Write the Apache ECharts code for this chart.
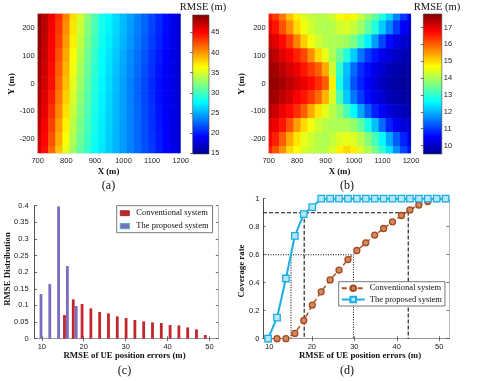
<!DOCTYPE html>
<html>
<head>
<meta charset="utf-8">
<script src="https://cdn.jsdelivr.net/npm/echarts@6/dist/echarts.min.js"></script>
<style>
html,body{margin:0;padding:0;background:#fff;}
#main{width:477px;height:381px;}
</style>
</head>
<body>
<div id="main"></div>
<script>
// heatmap grid (a) and (b): x = 700..1200, y = 250..-250
var xCells = [700, 725, 750, 775, 800, 825, 850, 875, 900, 925, 950, 975, 1000, 1025, 1050, 1075, 1100, 1125, 1150, 1175, 1200];
var yCells = [250, 200, 150, 100, 50, 0, -50, -100, -150, -200, -250];

// (a) conventional system RMSE (m), one row per yCells entry
var rmseA = [
  [49.0, 47.5, 45.5, 43.5, 40.5, 37.5, 35.0, 32.5, 30.5, 28.5, 27.5, 26.5, 25.5, 24.5, 23.5, 22.5, 21.5, 20.5, 19.5, 18.5, 17.5],
  [48.9, 47.3, 45.3, 43.2, 40.2, 37.2, 34.7, 32.3, 30.3, 28.4, 27.4, 26.4, 25.4, 24.4, 23.4, 22.4, 21.4, 20.4, 19.4, 18.4, 17.5],
  [48.7, 47.1, 45.1, 42.8, 39.8, 36.8, 34.3, 32.0, 30.0, 28.2, 27.2, 26.2, 25.2, 24.2, 23.2, 22.2, 21.2, 20.2, 19.3, 18.3, 17.4],
  [48.5, 46.9, 44.9, 42.3, 39.3, 36.3, 33.8, 31.6, 29.6, 27.9, 26.9, 25.9, 24.9, 23.9, 22.9, 21.9, 20.9, 19.9, 19.1, 18.2, 17.4],
  [48.3, 46.7, 44.7, 41.9, 38.9, 35.9, 33.4, 31.3, 29.3, 27.7, 26.7, 25.7, 24.7, 23.7, 22.7, 21.7, 20.7, 19.7, 18.9, 18.1, 17.3],
  [48.1, 46.5, 44.5, 41.5, 38.5, 35.5, 33.0, 31.0, 29.0, 27.5, 26.5, 25.5, 24.5, 23.5, 22.5, 21.5, 20.5, 19.5, 18.8, 18.0, 17.3],
  [47.8, 46.1, 44.0, 41.0, 38.0, 35.0, 32.6, 30.7, 28.8, 27.4, 26.4, 25.4, 24.5, 23.5, 22.5, 21.5, 20.6, 19.6, 18.8, 18.0, 17.3],
  [47.5, 45.7, 43.4, 40.4, 37.4, 34.5, 32.2, 30.4, 28.6, 27.3, 26.3, 25.4, 24.5, 23.5, 22.6, 21.6, 20.7, 19.7, 18.9, 18.1, 17.4],
  [47.2, 45.3, 42.8, 39.8, 36.8, 34.0, 31.8, 30.1, 28.4, 27.2, 26.2, 25.3, 24.4, 23.5, 22.6, 21.7, 20.8, 19.8, 19.0, 18.2, 17.4],
  [46.9, 44.9, 42.2, 39.2, 36.2, 33.5, 31.4, 29.8, 28.2, 27.1, 26.1, 25.2, 24.4, 23.5, 22.6, 21.7, 20.9, 19.9, 19.1, 18.2, 17.5],
  [46.5, 44.5, 41.5, 38.5, 35.5, 33.0, 31.0, 29.5, 28.0, 27.0, 26.0, 25.2, 24.4, 23.5, 22.7, 21.8, 21.0, 20.0, 19.2, 18.3, 17.5]
];

// (b) proposed system RMSE (m)
var rmseB = [
  [16.6, 16.3, 15.8, 15.2, 14.8, 14.4, 14.2, 14.1, 14.1, 14.3, 14.6, 14.8, 14.6, 14.2, 13.8, 13.4, 12.9, 12.3, 11.6, 11.0, 10.6],
  [16.9, 16.6, 16.1, 15.6, 15.0, 14.6, 14.3, 14.1, 14.0, 14.1, 14.3, 14.4, 14.2, 13.9, 13.4, 12.9, 12.2, 11.6, 11.0, 10.5, 10.2],
  [17.2, 17.0, 16.7, 16.3, 15.7, 15.1, 14.6, 14.3, 14.1, 14.0, 14.0, 13.9, 13.6, 13.1, 12.5, 11.8, 11.1, 10.6, 10.3, 10.1, 10.0],
  [17.5, 17.3, 17.0, 16.8, 16.5, 16.2, 15.6, 15.0, 14.5, 14.0, 13.5, 12.9, 12.2, 11.5, 11.0, 10.7, 10.4, 10.2, 10.0, 9.9, 9.8],
  [17.6, 17.5, 17.3, 17.1, 16.9, 16.6, 16.3, 16.0, 15.4, 14.3, 13.0, 12.1, 11.4, 10.9, 10.6, 10.3, 10.1, 9.9, 9.8, 9.7, 9.7],
  [17.7, 17.6, 17.5, 17.3, 17.1, 16.9, 16.7, 16.4, 16.0, 14.8, 12.8, 12.0, 11.2, 10.8, 10.5, 10.2, 10.0, 9.8, 9.7, 9.6, 9.6],
  [17.6, 17.5, 17.3, 17.1, 16.8, 16.6, 16.3, 15.9, 15.3, 14.4, 13.2, 12.2, 11.5, 11.0, 10.6, 10.3, 10.1, 9.9, 9.8, 9.7, 9.7],
  [17.4, 17.2, 16.9, 16.7, 16.4, 16.0, 15.4, 14.9, 14.5, 14.1, 13.8, 13.2, 12.6, 11.9, 11.3, 10.8, 10.5, 10.2, 10.0, 9.9, 9.8],
  [17.1, 16.9, 16.6, 16.1, 15.5, 15.0, 14.6, 14.3, 14.1, 14.0, 14.0, 14.0, 13.8, 13.4, 12.8, 12.1, 11.4, 10.8, 10.4, 10.2, 10.1],
  [16.8, 16.5, 16.0, 15.4, 14.9, 14.5, 14.3, 14.1, 14.0, 14.2, 14.4, 14.5, 14.4, 14.1, 13.7, 13.2, 12.6, 11.9, 11.3, 10.8, 10.4],
  [16.5, 16.1, 15.6, 15.0, 14.7, 14.4, 14.2, 14.1, 14.1, 14.4, 14.8, 15.0, 14.8, 14.4, 14.0, 13.6, 13.0, 12.4, 11.7, 11.1, 10.7]
];

// colour bar ranges and ticks
var rangeA = [14.8, 49.3];
var rangeB = [9.5, 17.8];
var cbarTicksA = [15, 20, 25, 30, 35, 40, 45];
var cbarTicksB = [10, 11, 12, 13, 14, 15, 16, 17];
var yTicksXY = [-200, -100, 0, 100, 200];

// (c) RMSE distribution
var convErr = [15.4, 17.5, 19.6, 21.7, 23.8, 25.9, 28.0, 30.1, 32.2, 34.3, 36.4, 38.5, 40.6, 42.7, 44.8, 46.9, 49.0];
var convDist = [0.071, 0.118, 0.104, 0.091, 0.080, 0.076, 0.067, 0.062, 0.056, 0.052, 0.049, 0.047, 0.041, 0.040, 0.034, 0.028, 0.011];
var propErr = [9.8, 11.9, 14.0, 16.1, 18.2];
var propDist = [0.134, 0.164, 0.397, 0.218, 0.098];

// (d) coverage rate
var covErr = [9.7, 11.8, 13.9, 16.0, 18.1, 20.1, 22.2, 24.3, 26.4, 28.5, 30.6, 32.7, 34.8, 36.9, 39.0, 41.1, 43.1, 45.2, 47.3, 49.4, 51.5];
var convCov = [0, 0, 0, 0.038, 0.13, 0.24, 0.335, 0.42, 0.49, 0.565, 0.63, 0.685, 0.74, 0.787, 0.835, 0.88, 0.92, 0.955, 0.98, 1, 1];
var propCov = [0, 0.15, 0.43, 0.735, 0.89, 0.94, 1, 1, 1, 1, 1, 1, 1, 1, 1, 1, 1, 1, 1, 1, 1];
var errTicks = [10, 20, 30, 40, 50];
// coverage levels and where each system reaches them
var covLevels = [0.9, 0.6];
var propAtLevel = [18.2, 15.1];
var convAtLevel = [42.7, 29.8];

var jet = ['#00008f', '#0000ff', '#0080ff', '#00ffff', '#80ff80', '#ffff00', '#ff8000', '#ff0000', '#800000'];
var legendText = {
  cConv: 'Conventional system', cProp: 'The proposed system',
  dConv: 'Conventional system', dProp: 'The proposed system'
};

var SANS = '"Liberation Sans", Arial, sans-serif';
var SERIF = '"Liberation Serif", "Times New Roman", serif';

function heatData(rows) {
  var out = [];
  for (var i = 0; i < yCells.length; i++) {
    for (var j = 0; j < xCells.length; j++) {
      out.push([xCells[j], yCells[i], rows[i][j]]);
    }
  }
  return out;
}

function renderCell(params, api) {
  var x = api.value(0), y = api.value(1);
  var p0 = api.coord([x - 12.5, y + 25]);
  var p1 = api.coord([x + 12.5, y - 25]);
  var cs = params.coordSys;
  var rect = echarts.graphic.clipRectByRect(
    { x: p0[0] - 0.3, y: p0[1] - 0.3, width: p1[0] - p0[0] + 0.6, height: p1[1] - p0[1] + 0.6 },
    { x: cs.x, y: cs.y, width: cs.width, height: cs.height }
  );
  if (!rect) return;
  return { type: 'rect', shape: rect, style: { fill: api.visual('color') } };
}

function jetGradient() {
  var stops = [];
  for (var i = 0; i < jet.length; i++) stops.push({ offset: i / (jet.length - 1), color: jet[i] });
  return new echarts.graphic.LinearGradient(0, 1, 0, 0, stops);
}

function tickLabel(extra) {
  var o = { fontSize: 7.5, color: '#222', fontFamily: SANS, formatter: function (v) { return String(v); } };
  for (var k in extra) o[k] = extra[k];
  return o;
}

function txt(x, y, s, size, bold, rot) {
  return {
    type: 'text', x: x, y: y, rotation: rot || 0, z: 100,
    style: {
      text: s, x: 0, y: 0, align: 'center', verticalAlign: 'middle',
      fontFamily: SERIF, fontSize: size, fontWeight: bold ? 'bold' : 'normal', fill: '#111'
    }
  };
}

function guideSeries() {
  var out = [];
  for (var i = 0; i < covLevels.length; i++) {
    var ls = { color: '#111', width: 1.1, type: i === 0 ? [4, 2] : [1, 1.5] };
    out.push({
      type: 'line', xAxisIndex: 6, yAxisIndex: 6, z: 1, symbol: 'none', silent: true,
      lineStyle: ls,
      data: [[8.5, covLevels[i]], [convAtLevel[i], covLevels[i]], [convAtLevel[i], 0]]
    });
    out.push({
      type: 'line', xAxisIndex: 6, yAxisIndex: 6, z: 1, symbol: 'none', silent: true,
      lineStyle: ls,
      data: [[propAtLevel[i], covLevels[i]], [propAtLevel[i], 0]]
    });
  }
  return out;
}

var chart = echarts.init(document.getElementById('main'), null, { renderer: 'canvas' });

var boxAxis = { show: true, lineStyle: { color: '#222', width: 0.8 } };
var lightAxis = { show: true, lineStyle: { color: '#aaa', width: 0.8 } };
var inTick = function (vals) {
  var t = { show: true, inside: true, length: 2.5, lineStyle: { color: '#333', width: 0.7 } };
  if (vals) t.customValues = vals;
  return t;
};

var option = {
  animation: false,
  backgroundColor: '#fff',
  grid: [
    { left: 37.7, top: 13.7, width: 143, height: 139.5, show: true, borderColor: '#ccc', borderWidth: 0.6 },
    { left: 192.7, top: 15, width: 16.3, height: 139, show: true, backgroundColor: jetGradient(), borderColor: '#444', borderWidth: 0.6 },
    { left: 268.7, top: 13.7, width: 142.3, height: 139.6, show: true, borderColor: '#ccc', borderWidth: 0.6 },
    { left: 423.3, top: 14, width: 18.5, height: 140, show: true, backgroundColor: jetGradient(), borderColor: '#444', borderWidth: 0.6 },
    { left: 34.7, top: 205.5, width: 183.6, height: 133.2 },
    { left: 263, top: 198.7, width: 186, height: 140 }
  ],
  xAxis: [
    { gridIndex: 0, type: 'value', min: 700, max: 1200, interval: 100, axisLine: { show: false }, axisTick: { show: false }, splitLine: { show: false }, axisLabel: tickLabel({ margin: 4 }) },
    { gridIndex: 1, type: 'value', min: 0, max: 1, show: false },
    { gridIndex: 2, type: 'value', min: 700, max: 1200, interval: 100, axisLine: { show: false }, axisTick: { show: false }, splitLine: { show: false }, axisLabel: tickLabel({ margin: 4 }) },
    { gridIndex: 3, type: 'value', min: 0, max: 1, show: false },
    { gridIndex: 4, type: 'value', min: 8.3, max: 52.1, position: 'bottom', axisLine: boxAxis, axisTick: inTick(errTicks), splitLine: { show: false }, axisLabel: tickLabel({ margin: 4, customValues: errTicks }) },
    { gridIndex: 4, type: 'value', min: 8.3, max: 52.1, position: 'top', axisLine: lightAxis, axisTick: inTick(errTicks), splitLine: { show: false }, axisLabel: { show: false } },
    { gridIndex: 5, type: 'value', min: 8.5, max: 52.3, position: 'bottom', axisLine: boxAxis, axisTick: inTick(errTicks), splitLine: { show: false }, axisLabel: tickLabel({ margin: 4, customValues: errTicks }) },
    { gridIndex: 5, type: 'value', min: 8.5, max: 52.3, position: 'top', axisLine: lightAxis, axisTick: inTick(errTicks), splitLine: { show: false }, axisLabel: { show: false } }
  ],
  yAxis: [
    { gridIndex: 0, type: 'value', min: -250, max: 250, axisLine: { show: false }, axisTick: { show: false }, splitLine: { show: false }, axisLabel: tickLabel({ margin: 3, customValues: yTicksXY }) },
    { gridIndex: 1, type: 'value', min: rangeA[0], max: rangeA[1], position: 'right', axisLine: { show: false }, axisTick: inTick(cbarTicksA), splitLine: { show: false }, axisLabel: tickLabel({ margin: 2, customValues: cbarTicksA }) },
    { gridIndex: 2, type: 'value', min: -250, max: 250, axisLine: { show: false }, axisTick: { show: false }, splitLine: { show: false }, axisLabel: tickLabel({ margin: 3, customValues: yTicksXY }) },
    { gridIndex: 3, type: 'value', min: rangeB[0], max: rangeB[1], position: 'right', axisLine: { show: false }, axisTick: inTick(cbarTicksB), splitLine: { show: false }, axisLabel: tickLabel({ margin: 2, customValues: cbarTicksB }) },
    { gridIndex: 4, type: 'value', min: 0, max: 0.4, interval: 0.05, position: 'left', axisLine: boxAxis, axisTick: inTick(), splitLine: { show: false }, axisLabel: tickLabel({ margin: 6 }) },
    { gridIndex: 4, type: 'value', min: 0, max: 0.4, interval: 0.05, position: 'right', axisLine: lightAxis, axisTick: inTick(), splitLine: { show: false }, axisLabel: { show: false } },
    { gridIndex: 5, type: 'value', min: 0, max: 1, interval: 0.2, position: 'left', axisLine: boxAxis, axisTick: inTick(), splitLine: { show: false }, axisLabel: tickLabel({ margin: 3.5 }) },
    { gridIndex: 5, type: 'value', min: 0, max: 1, interval: 0.2, position: 'right', axisLine: lightAxis, axisTick: inTick(), splitLine: { show: false }, axisLabel: { show: false } }
  ],
  visualMap: [
    { type: 'continuous', show: false, seriesIndex: 0, dimension: 2, min: rangeA[0], max: rangeA[1], inRange: { color: jet } },
    { type: 'continuous', show: false, seriesIndex: 1, dimension: 2, min: rangeB[0], max: rangeB[1], inRange: { color: jet } }
  ],
  legend: [
    {
      left: 116.7, top: 205.7, orient: 'vertical', itemWidth: 9, itemHeight: 5, itemGap: 4,
      padding: [3, 4, 2, 3], borderColor: '#555', borderWidth: 0.8, backgroundColor: '#fff',
      formatter: function (n) { return legendText[n]; },
      textStyle: { fontFamily: SERIF, fontSize: 8.5, color: '#111', padding: [0, 0, 0, 2] },
      data: [
        { name: 'cConv', icon: 'rect', itemStyle: { color: '#c0262a', borderColor: '#8a1a1a', borderWidth: 0.8 } },
        { name: 'cProp', icon: 'rect', itemStyle: { color: '#7a6cc0', borderColor: '#58b0b8', borderWidth: 1.2 } }
      ]
    },
    {
      left: 338.7, top: 281.7, orient: 'vertical', itemWidth: 23, itemHeight: 7, itemGap: 2.3,
      padding: [2, 3, 2, 2], borderColor: '#555', borderWidth: 0.8, backgroundColor: '#fff',
      formatter: function (n) { return legendText[n]; },
      textStyle: { fontFamily: SERIF, fontSize: 8.5, color: '#111', padding: [0, 0, 0, 0] },
      data: ['dConv', 'dProp']
    }
  ],
  series: [
    { type: 'custom', xAxisIndex: 0, yAxisIndex: 0, renderItem: renderCell, data: heatData(rmseA), silent: true },
    { type: 'custom', xAxisIndex: 2, yAxisIndex: 2, renderItem: renderCell, data: heatData(rmseB), silent: true },
    {
      name: 'cConv', type: 'bar', xAxisIndex: 4, yAxisIndex: 4, barWidth: 2.8, barGap: '-100%',
      itemStyle: { color: '#c0262a' },
      data: convErr.map(function (e, i) { return [e, convDist[i]]; })
    },
    {
      name: 'cProp', type: 'bar', xAxisIndex: 4, yAxisIndex: 4, barWidth: 2.8, barGap: '-100%',
      itemStyle: { color: '#7a6cc0' },
      data: propErr.map(function (e, i) { return [e, propDist[i]]; })
    },
    {
      name: 'dConv', type: 'line', xAxisIndex: 6, yAxisIndex: 6, z: 3,
      symbol: 'circle', symbolSize: 6,
      lineStyle: { color: '#ad5228', width: 1.5, type: [5, 3] },
      itemStyle: { color: '#cf8a5e', borderColor: '#a4481e', borderWidth: 1.3 },
      data: covErr.map(function (e, i) { return [e, convCov[i]]; })
    },
    {
      name: 'dProp', type: 'line', xAxisIndex: 6, yAxisIndex: 6, z: 4,
      symbol: 'rect', symbolSize: 6.5,
      lineStyle: { color: '#1aaee6', width: 2 },
      itemStyle: { color: '#b5e6f8', borderColor: '#1aaee6', borderWidth: 1.3 },
      data: covErr.map(function (e, i) { return [e, propCov[i]]; })
    }
  ].concat(guideSeries()),
  graphic: [
    txt(203, 7, 'RMSE (m)', 10.5, false),
    txt(437, 7, 'RMSE (m)', 10.5, false),
    txt(108.5, 172, 'X (m)', 8.8, true),
    txt(339.5, 172, 'X (m)', 8.8, true),
    txt(12, 84, 'Y (m)', 8.8, true, Math.PI / 2),
    txt(242, 84, 'Y (m)', 8.8, true, Math.PI / 2),
    txt(108.5, 186, '(a)', 12, false),
    txt(347, 186, '(b)', 12, false),
    txt(124.5, 356, 'RMSE of UE position errors (m)', 8.8, true),
    txt(360, 356, 'RMSE of UE position errors (m)', 8.8, true),
    txt(7.5, 269, 'RMSE Distribution', 8.8, true, Math.PI / 2),
    txt(242, 271, 'Coverage rate', 8.8, true, Math.PI / 2),
    txt(124.5, 371, '(c)', 12, false),
    txt(347, 371, '(d)', 12, false)
  ]
};

chart.setOption(option);
</script>
</body>
</html>
